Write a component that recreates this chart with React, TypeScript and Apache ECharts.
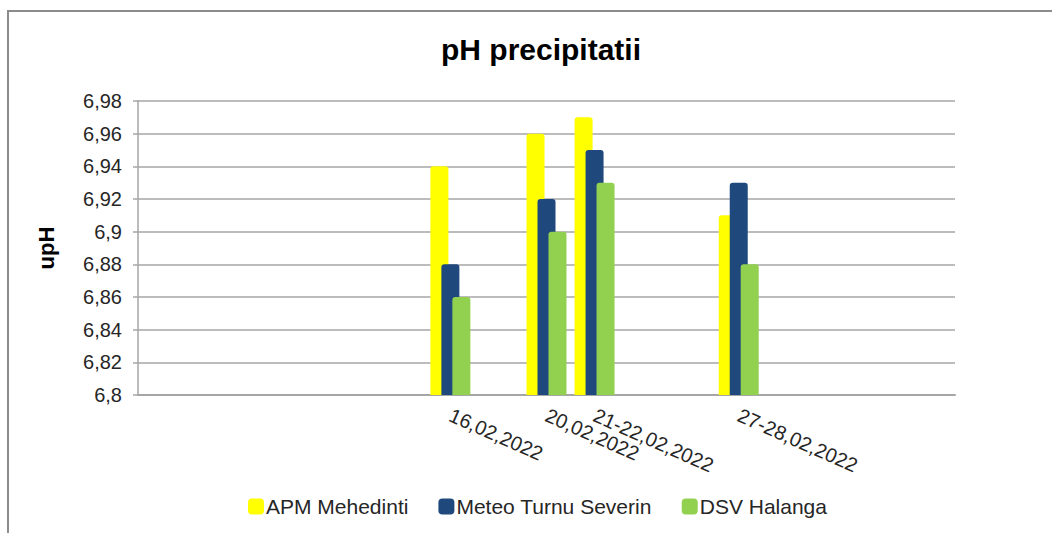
import React, { useEffect, useRef } from "react";
import * as echarts from "echarts";

const categories: string[] = [
  "", "", "", "", "", "", "16,02,2022", "", "20,02,2022", "21-22,02,2022", "", "", "27-28,02,2022", "", "", "", "",
];
const apmMehedinti: (number | null)[] = [
  null, null, null, null, null, null, 6.94, null, 6.96, 6.97, null, null, 6.91, null, null, null, null,
];
const meteoTurnuSeverin: (number | null)[] = [
  null, null, null, null, null, null, 6.88, null, 6.92, 6.95, null, null, 6.93, null, null, null, null,
];
const dsvHalanga: (number | null)[] = [
  null, null, null, null, null, null, 6.86, null, 6.9, 6.93, null, null, 6.88, null, null, null, null,
];
const seriesNames = ["APM Mehedinti", "Meteo Turnu Severin", "DSV Halanga"];
const colors = ["#FFFF00", "#1F497D", "#92D050"];

export default function App() {
  const ref = useRef<HTMLDivElement>(null);
  useEffect(() => {
    if (!ref.current) return;
    const chart = echarts.init(ref.current, undefined, { renderer: "svg" });
    const data = [apmMehedinti, meteoTurnuSeverin, dsvHalanga];
    chart.setOption({
      animation: false,
      backgroundColor: "#ffffff",
      title: {
        text: "pH precipitatii",
        left: 536,
        textAlign: "center",
        top: 29,
        textStyle: { fontFamily: "Liberation Sans, Arial, sans-serif", fontSize: 30, fontWeight: "bold", color: "#000" },
      },
      graphic: [
        {
          type: "rect",
          shape: { x: 8, y: 11, width: 1100, height: 600 },
          style: { fill: "none", stroke: "#8c8c8c", lineWidth: 2 },
          silent: true,
        },
      ],
      legend: {
        data: seriesNames,
        left: 243,
        top: 491,
        itemWidth: 16,
        itemHeight: 16,
        itemGap: 30,
        icon: "roundRect",
        textStyle: { fontFamily: "Liberation Sans, Arial, sans-serif", fontSize: 21, color: "#262626", padding: [0, 0, 0, -3] },
      },
      grid: { left: 138, right: 97, top: 101, bottom: 138, containLabel: false },
      xAxis: {
        type: "category",
        data: categories,
        axisLine: { lineStyle: { color: "#A6A6A6", width: 2 } },
        axisTick: { show: false },
        axisLabel: {
          interval: 0,
          rotate: -24,
          margin: 19,
          fontFamily: "Liberation Sans, Arial, sans-serif",
          fontSize: 20,
          color: "#262626",
        },
      },
      yAxis: {
        type: "value",
        min: 6.8,
        max: 6.98,
        interval: 0.02,
        name: "upH",
        nameLocation: "middle",
        nameRotate: 90,
        nameGap: 81,
        nameTextStyle: { fontFamily: "Liberation Sans, Arial, sans-serif", fontSize: 22, fontWeight: "bold", color: "#000" },
        axisLine: { show: true, lineStyle: { color: "#A6A6A6", width: 1.5 } },
        axisTick: { show: true, length: 5, lineStyle: { color: "#A6A6A6", width: 1.5 } },
        splitLine: { lineStyle: { color: "#A6A6A6", width: 1.5 } },
        axisLabel: {
          margin: 16,
          fontFamily: "Liberation Sans, Arial, sans-serif",
          fontSize: 20,
          color: "#262626",
          formatter: (v: number) => String(+v.toFixed(2)).replace(".", ","),
        },
      },
      series: seriesNames.map((name, i) => ({
        name,
        type: "bar",
        data: data[i],
        barWidth: 18,
        barGap: "-39%",
        itemStyle: { color: colors[i], borderRadius: [3, 3, 0, 0] },
      })),
    });
    return () => chart.dispose();
  }, []);
  return (
    <div
      ref={ref}
      style={{ position: "fixed", left: 0, top: 0, width: 1052, height: 533 }}
    />
  );
}
